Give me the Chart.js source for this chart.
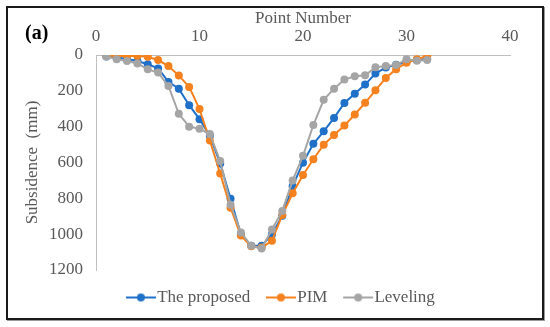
<!DOCTYPE html>
<html>
<head>
<meta charset="utf-8">
<script src="https://cdn.jsdelivr.net/npm/chart.js@4"></script>
<style>
body{margin:0;background:#fff;}
#wrap{position:relative;width:550px;height:327px;}
#frame{position:absolute;left:6px;top:6px;width:534px;height:310px;border:2px solid #1a1a1a;box-shadow:1px 1px 0 #9a9a9a;pointer-events:none;}
#tag{position:absolute;left:25px;top:21px;font:bold 20px "Liberation Serif",serif;color:#000;}
</style>
</head>
<body>
<div id="wrap">
<canvas id="chart" width="550" height="327"></canvas>
<div id="frame"></div>
<div id="tag">(a)</div>
</div>
<script>
const pointNumbers = [1,2,3,4,5,6,7,8,9,10,11,12,13,14,15,16,17,18,19,20,21,22,23,24,25,26,27,28,29,30,31,32];
const proposed = [8,14,22,34,52,75,150,188,280,358,450,605,802,1000,1065,1065,1002,897,732,601,496,426,351,268,216,165,103,70,55,38,28,22];
const pim = [4,5,5,6,10,28,62,115,178,302,477,662,852,1008,1068,1075,1037,893,772,670,582,501,447,394,332,267,197,128,79,43,24,6];
const leveling = [9,24,34,47,80,98,173,328,400,412,441,592,836,990,1065,1080,974,870,700,563,391,250,188,137,118,113,69,62,56,24,32,28];
const xTicks = [0,10,20,30,40];
const yTicks = [0,200,400,600,800,1000,1200];

const names = ['The proposed','PIM','Leveling'];
const colors = ['#1f70c9','#f5811f','#a5a5a5'];
const series = [proposed, pim, leveling];

const serif = '"Liberation Serif", serif';
const textColor = '#595959';

// legend marker: line with a dot, drawn off-centre so the text sits right after it
function marker(color){
const c = document.createElement('canvas');
c.width = 36; c.height = 10;
const g = c.getContext('2d');
g.strokeStyle = color; g.lineWidth = 2;
g.beginPath(); g.moveTo(5,5); g.lineTo(35,5); g.stroke();
g.fillStyle = color;
g.beginPath(); g.arc(20,5,4,0,Math.PI*2); g.fill();
return c;
}

const datasets = series.map((vals,i) => ({
label: names[i],
data: vals.map((v,j) => ({x: pointNumbers[j], y: v})),
borderColor: colors[i],
backgroundColor: colors[i],
borderWidth: 2,
pointRadius: 4,
pointHoverRadius: 4,
pointBorderWidth: 0,
tension: 0,
order: 2 - i
}));

new Chart(document.getElementById('chart'),{
type:'line',
data:{datasets},
options:{
responsive:false,
animation:false,
events:[],
layout:{padding:{left:14,right:0,top:0,bottom:11}},
scales:{
x:{
type:'linear',
position:'top',
min:0,max:40,
afterBuildTicks:s => { s.ticks = xTicks.map(v => ({value:v})); },
afterFit:s => { s.height = 55; },
grid:{display:false,drawTicks:false},
border:{display:true,color:'#bfbfbf',width:1},
ticks:{color:textColor,font:{family:serif,size:17},padding:8,callback:v => String(v)},
title:{display:true,text:'Point Number',color:textColor,font:{family:serif,size:17},padding:{top:8,bottom:0}}
},
y:{
type:'linear',
reverse:true,
min:0,max:1200,
afterBuildTicks:s => { s.ticks = yTicks.map(v => ({value:v})); },
afterFit:s => { s.width = 82; },
grid:{display:false,drawTicks:false},
border:{display:true,color:'#bfbfbf',width:1},
ticks:{color:textColor,font:{family:serif,size:17},padding:13,callback:v => String(v)},
title:{display:true,text:'Subsidence  (mm)',color:textColor,font:{family:serif,size:17},padding:{top:8,bottom:0}}
},
spacer:{
type:'linear',
position:'right',
display:true,
afterFit:s => { s.width = 40; },
grid:{display:false,drawTicks:false},
border:{display:false},
ticks:{display:false}
}
},
plugins:{
tooltip:{enabled:false},
legend:{
position:'bottom',
labels:{
usePointStyle:true,
pointStyleWidth:19.5,
padding:19,
color:textColor,
font:{family:serif,size:17},
generateLabels:() => names.map((n,i) => ({
text:n,
fillStyle:colors[i],
strokeStyle:colors[i],
lineWidth:0,
pointStyle:marker(colors[i]),
fontColor:textColor,
datasetIndex:i
}))
}
}
}
}
});
</script>
</body>
</html>
